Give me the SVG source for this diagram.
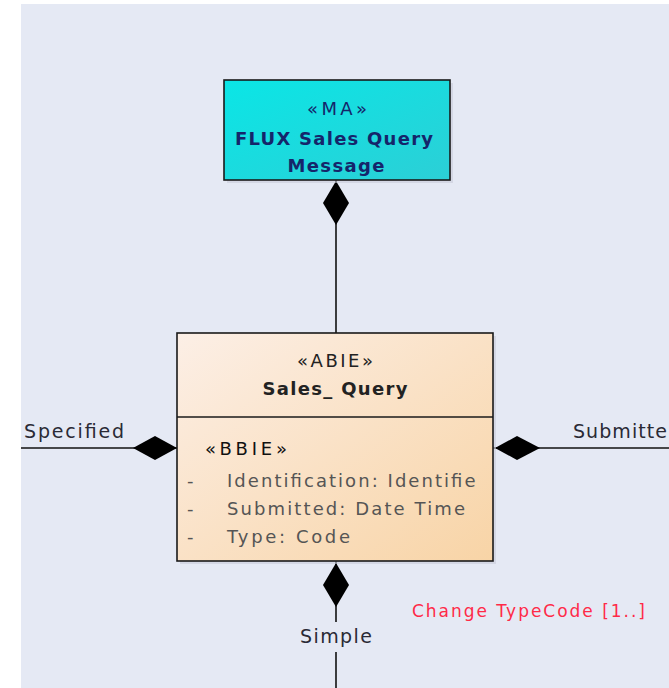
<svg xmlns="http://www.w3.org/2000/svg" width="669" height="688" viewBox="0 0 669 688">
<style>
.t{font-family:"DejaVu Sans","Liberation Sans",sans-serif;}
.lbl{font-size:19px;fill:#2a2a35;}
.ln{stroke:#111;stroke-width:1.6;fill:none;}
.dia{fill:#000;}
.box{stroke:#1a1a1a;stroke-width:1.6;}
</style>
<defs>
<linearGradient id="gC" x1="0" y1="0" x2="1" y2="1">
<stop offset="0" stop-color="#0ae6e6"/><stop offset="1" stop-color="#2ccfd6"/>
</linearGradient>
<linearGradient id="gP" x1="0" y1="0" x2="1" y2="1">
<stop offset="0" stop-color="#fcefe6"/><stop offset="1" stop-color="#f8d4a6"/>
</linearGradient>
<clipPath id="clipAbie"><rect x="178" y="333" width="300" height="228"/></clipPath>
</defs>
<rect width="669" height="688" fill="#ffffff"/>
<rect x="21" y="4" width="648" height="684" fill="#e5e9f4"/>

<g id="connectors">
<line class="ln" x1="336" y1="180" x2="336" y2="333"/>
<polygon class="dia" points="336,181 349,203 336,225 323,203"/>
<line class="ln" x1="21" y1="448" x2="177" y2="448"/>
<polygon class="dia" points="133,448 155,436 177,448 155,460"/>
<text class="t lbl" x="24" y="438" textLength="100" lengthAdjust="spacing">Specified</text>
<line class="ln" x1="493" y1="448" x2="669" y2="448"/>
<polygon class="dia" points="495,448 517,436 540,448 517,460"/>
<text class="t lbl" x="573" y="438" textLength="94" lengthAdjust="spacing">Submitte</text>
<line class="ln" x1="336" y1="561" x2="336" y2="622"/>
<polygon class="dia" points="336,563 349,585 336,607 323,585"/>
<line class="ln" x1="336" y1="652" x2="336" y2="688"/>
<text class="t lbl" x="336" y="643" text-anchor="middle" textLength="72" lengthAdjust="spacing">Simple</text>
<text class="t" x="412" y="617" font-size="17" fill="#ff2a48" textLength="233" lengthAdjust="spacing">Change TypeCode [1..]</text>
</g>

<g id="ma">
<rect x="227" y="83" width="226" height="100" fill="#c8ccd8" opacity="0.6"/>
<rect class="box" x="224" y="80" width="226" height="100" fill="url(#gC)"/>
<text class="t" x="337" y="115" font-size="18" fill="#15256a" text-anchor="middle" textLength="60" lengthAdjust="spacing">«MA»</text>
<text class="t" x="334" y="145" font-size="18" font-weight="bold" fill="#15256a" text-anchor="middle" textLength="198" lengthAdjust="spacing">FLUX Sales Query</text>
<text class="t" x="336" y="172" font-size="18" font-weight="bold" fill="#15256a" text-anchor="middle" textLength="97" lengthAdjust="spacing">Message</text>
</g>

<g id="abie">
<rect x="180" y="336" width="316" height="228" fill="#c8ccd8" opacity="0.6"/>
<rect class="box" x="177" y="333" width="316" height="228" fill="url(#gP)"/>
<line class="box" x1="177" y1="417" x2="493" y2="417"/>
<text class="t" x="335" y="367" font-size="18" fill="#222" text-anchor="middle" textLength="76" lengthAdjust="spacing">«ABIE»</text>
<text class="t" x="335" y="395" font-size="18" font-weight="bold" fill="#222" text-anchor="middle" textLength="145" lengthAdjust="spacing">Sales_ Query</text>
<text class="t" x="205" y="455" font-size="18" fill="#111" textLength="82" lengthAdjust="spacing">«BBIE»</text>
<g clip-path="url(#clipAbie)" class="t" font-size="18" fill="#555">
<text x="187" y="487">-</text>
<text x="227" y="487" textLength="258" lengthAdjust="spacing">Identification: Identifier</text>
<text x="187" y="515">-</text>
<text x="227" y="515" textLength="238" lengthAdjust="spacing">Submitted: Date Time</text>
<text x="187" y="543">-</text>
<text x="227" y="543" textLength="123" lengthAdjust="spacing">Type: Code</text>
</g>
</g>
</svg>
